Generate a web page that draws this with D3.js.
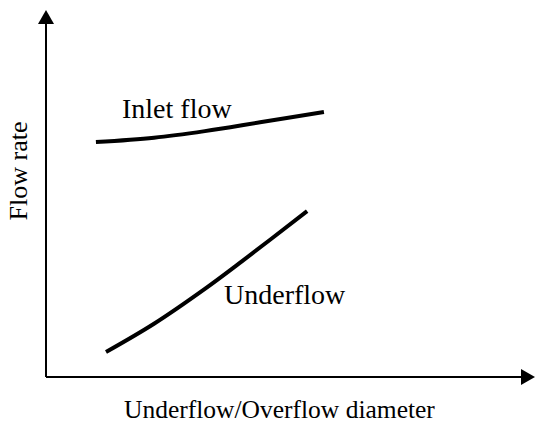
<!DOCTYPE html>
<html>
<head>
<meta charset="utf-8">
<script src="https://cdn.jsdelivr.net/npm/d3@7"></script>
<style>
  body { margin: 0; background: #fff; }
  svg text { font-family: "Liberation Serif", "Times New Roman", serif; fill: #000; }
</style>
</head>
<body>
<svg id="chart"></svg>
<script>
// qualitative sketch, values (arbitrary units 0..10)
const inletX = [1.04, 2.25, 3.31, 4.46, 5.79];
const inletY = [6.40, 6.52, 6.70, 6.94, 7.22];
const underX = [1.25, 2.25, 3.31, 4.08, 5.44];
const underY = [0.68, 1.45, 2.40, 3.15, 4.52];

const curveLabels = ['Inlet flow', 'Underflow'];
const xTitle = 'Underflow/Overflow diameter';
const yTitle = 'Flow rate';

const width = 535, height = 424;

const svg = d3.select('#chart')
    .attr('width', width)
    .attr('height', height);

// scales
const x = d3.scaleLinear().domain([0, 10]).range([46, 526]);
const y = d3.scaleLinear().domain([0, 10]).range([377, 10]);

// axes with arrowheads
svg.append('line')
    .attr('x1', x(0)).attr('y1', y(0))
    .attr('x2', x(0)).attr('y2', 24)
    .attr('stroke', '#000').attr('stroke-width', 2);
svg.append('path')
    .attr('d', `M${x(0) - 8},24 L${x(0)},10 L${x(0) + 8},24 Z`)
    .attr('fill', '#000');

svg.append('line')
    .attr('x1', x(0)).attr('y1', y(0))
    .attr('x2', 521).attr('y2', y(0))
    .attr('stroke', '#000').attr('stroke-width', 2);
svg.append('path')
    .attr('d', `M521,${y(0) - 8} L535,${y(0)} L521,${y(0) + 8} Z`)
    .attr('fill', '#000');

// curves
const line = d3.line()
    .x(d => x(d[0]))
    .y(d => y(d[1]))
    .curve(d3.curveCatmullRom.alpha(0.5));

const series = [
  d3.zip(inletX, inletY),
  d3.zip(underX, underY)
];

svg.selectAll('.curve')
    .data(series)
  .join('path')
    .attr('class', 'curve')
    .attr('d', line)
    .attr('fill', 'none')
    .attr('stroke', '#000')
    .attr('stroke-width', 4);

// curve labels
svg.append('text')
    .attr('x', 122).attr('y', 118)
    .style('font-size', '28px')
    .text(curveLabels[0]);

svg.append('text')
    .attr('x', 224).attr('y', 304)
    .style('font-size', '28px')
    .text(curveLabels[1]);

// axis titles
svg.append('text')
    .attr('x', 124).attr('y', 418)
    .style('font-size', '25.5px')
    .text(xTitle);

svg.append('text')
    .attr('transform', 'translate(27,171) rotate(-90)')
    .style('text-anchor', 'middle')
    .style('font-size', '26px')
    .text(yTitle);
</script>
</body>
</html>
